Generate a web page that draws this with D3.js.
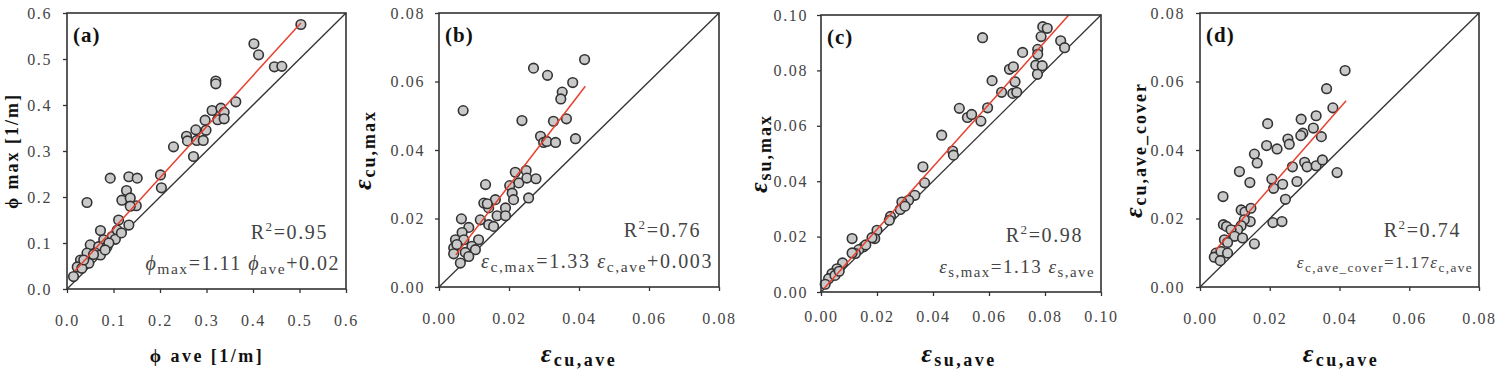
<!DOCTYPE html>
<html>
<head>
<meta charset="utf-8">
<script src="https://cdn.jsdelivr.net/npm/d3@7"></script>
<style>
  body { margin: 0; background: #fff; }
  svg { display: block; }
  svg text { font-family: "Liberation Serif", "Times New Roman", "DejaVu Serif", serif; }
</style>
</head>
<body>
<div id="chart"></div>
<script>
// ---------- data ----------
// (a) curvature
var aX = [0.503,0.402,0.412,0.446,0.462,0.320,0.320,0.363,0.312,0.331,0.338,0.324,0.338,0.297,0.299,0.277,0.257,0.259,0.279,0.293,0.272,0.229,0.093,0.133,0.151,0.201,0.203,0.043,0.128,0.118,0.136,0.149,0.136,0.111,0.133,0.072,0.097,0.108,0.079,0.050,0.068,0.086,0.043,0.061,0.072,0.029,0.047,0.022,0.014,0.032,0.036,0.057,0.104,0.117,0.090,0.082];
var aY = [0.575,0.533,0.509,0.483,0.484,0.452,0.446,0.407,0.388,0.393,0.384,0.368,0.370,0.367,0.345,0.346,0.332,0.322,0.323,0.323,0.288,0.309,0.241,0.244,0.241,0.248,0.220,0.188,0.214,0.193,0.198,0.181,0.180,0.150,0.139,0.127,0.114,0.128,0.107,0.096,0.092,0.092,0.078,0.078,0.074,0.063,0.056,0.048,0.027,0.045,0.063,0.075,0.108,0.122,0.100,0.085];
// (b) concrete strain
var bX = [0.0416,0.0270,0.0310,0.0382,0.0352,0.0348,0.0069,0.0237,0.0364,0.0327,0.0390,0.0290,0.0299,0.0308,0.0333,0.0133,0.0218,0.0249,0.0228,0.0251,0.0277,0.0202,0.0209,0.0213,0.0256,0.0128,0.0161,0.0142,0.0190,0.0166,0.0190,0.0118,0.0142,0.0156,0.0064,0.0085,0.0066,0.0047,0.0071,0.0113,0.0042,0.0094,0.0051,0.0075,0.0104,0.0042,0.0085,0.0061,0.0138];
var bY = [0.0664,0.0639,0.0618,0.0597,0.0569,0.0549,0.0515,0.0486,0.0491,0.0484,0.0433,0.0440,0.0422,0.0425,0.0422,0.0299,0.0335,0.0340,0.0304,0.0318,0.0316,0.0296,0.0274,0.0255,0.0260,0.0245,0.0255,0.0231,0.0231,0.0208,0.0208,0.0196,0.0182,0.0177,0.0199,0.0174,0.0159,0.0138,0.0138,0.0138,0.0114,0.0119,0.0124,0.0101,0.0109,0.0097,0.0089,0.0070,0.0243];
// (c) steel strain
var cX = [0.0792,0.0808,0.0577,0.0786,0.0856,0.0870,0.0720,0.0774,0.0774,0.0767,0.0790,0.0773,0.0673,0.0687,0.0611,0.0693,0.0645,0.0685,0.0699,0.0494,0.0595,0.0523,0.0538,0.0571,0.0431,0.0470,0.0473,0.0364,0.0370,0.0335,0.0313,0.0289,0.0283,0.0300,0.0248,0.0244,0.0200,0.0192,0.0182,0.0111,0.0152,0.0135,0.0123,0.0111,0.0160,0.0077,0.0057,0.0039,0.0027,0.0015,0.0050,0.0065];
var cY = [0.0958,0.0952,0.0918,0.0922,0.0907,0.0882,0.0865,0.0876,0.0858,0.0819,0.0817,0.0786,0.0804,0.0813,0.0763,0.0759,0.0721,0.0717,0.0721,0.0663,0.0665,0.0630,0.0641,0.0617,0.0566,0.0509,0.0494,0.0452,0.0394,0.0349,0.0331,0.0325,0.0298,0.0310,0.0273,0.0259,0.0223,0.0193,0.0196,0.0193,0.0163,0.0153,0.0139,0.0141,0.0170,0.0105,0.0084,0.0066,0.0048,0.0028,0.0060,0.0075];
// (d) concrete strain, cover average
var dX = [0.0416,0.0363,0.0381,0.0333,0.0290,0.0194,0.0325,0.0252,0.0256,0.0295,0.0289,0.0348,0.0191,0.0221,0.0156,0.0164,0.0113,0.0265,0.0300,0.0307,0.0333,0.0351,0.0393,0.0143,0.0206,0.0211,0.0237,0.0278,0.0245,0.0066,0.0118,0.0129,0.0146,0.0144,0.0127,0.0209,0.0235,0.0067,0.0076,0.0118,0.0108,0.0089,0.0099,0.0122,0.0070,0.0079,0.0156,0.0046,0.0041,0.0060,0.0079,0.0058];
var dY = [0.0632,0.0579,0.0523,0.0500,0.0490,0.0477,0.0464,0.0432,0.0417,0.0449,0.0442,0.0439,0.0413,0.0403,0.0388,0.0362,0.0337,0.0351,0.0364,0.0351,0.0354,0.0371,0.0334,0.0305,0.0315,0.0288,0.0300,0.0308,0.0256,0.0264,0.0225,0.0219,0.0230,0.0191,0.0196,0.0188,0.0191,0.0182,0.0177,0.0179,0.0167,0.0167,0.0148,0.0143,0.0138,0.0130,0.0126,0.0099,0.0087,0.0104,0.0099,0.0077];

// tick values
var ticksA = [0, 0.1, 0.2, 0.3, 0.4, 0.5, 0.6];
var ticksB = [0, 0.02, 0.04, 0.06, 0.08];
var ticksC = [0, 0.02, 0.04, 0.06, 0.08, 0.10];

// fitted lines: slope, intercept, x range
var fitSlope = [1.11, 1.33, 1.13, 1.165];
var fitIntercept = [0.02, 0.003, 0, 0.0056];
var fitFrom = [0.017, 0.0048, 0.001, 0.0044];
var fitTo = [0.503, 0.0418, 0.1, 0.0419];

var rSquared = ["0.95", "0.76", "0.98", "0.74"];

// ---------- layout ----------
var panels = [
  { xs: aX, ys: aY, max: 0.6, ticks: ticksA, dec: 1, box: [67, 346, 13, 289], tag: "(a)",
    ypad: 11, xpad: 22, yTitleX: 18, xTitleY: 362, xTitleX: 207, eqSize: 20, eqSpace: 1.5,
    xTitle: [["ϕ", "b"], [" ave [1/m]", "n"]],
    yTitle: [["ϕ", "b"], [" max [1/m]", "n"]],
    eq: [["ϕ", "i"], ["max", "sub"], ["=1.11 ", "n"], ["ϕ", "i"], ["ave", "sub"], ["+0.02", "n"]] },
  { xs: bX, ys: bY, max: 0.08, ticks: ticksB, dec: 2, box: [439, 719, 13, 287], tag: "(b)",
    ypad: 10, xpad: 22, yTitleX: 371, xTitleY: 362, xTitleX: 579, eqSize: 20, eqSpace: 1.6,
    xTitle: [["ε", "eps"], ["cu,ave", "tsub"]],
    yTitle: [["ε", "eps"], ["cu,max", "tsub"]],
    eq: [["ε", "i"], ["c,max", "sub"], ["=1.33 ", "n"], ["ε", "i"], ["c,ave", "sub"], ["+0.003", "n"]] },
  { xs: cX, ys: cY, max: 0.10, ticks: ticksC, dec: 2, box: [821, 1101, 15, 292], tag: "(c)",
    ypad: 9, xpad: 15, yTitleX: 767, xTitleY: 362, xTitleX: 959, eqSize: 19, eqSpace: 1.5,
    xTitle: [["ε", "eps"], ["su,ave", "tsub"]],
    yTitle: [["ε", "eps"], ["su,max", "tsub"]],
    eq: [["ε", "i"], ["s,max", "sub"], ["=1.13 ", "n"], ["ε", "i"], ["s,ave", "sub"]] },
  { xs: dX, ys: dY, max: 0.08, ticks: ticksB, dec: 2, box: [1200, 1479, 13, 287], tag: "(d)",
    ypad: 11, xpad: 22, yTitleX: 1142, xTitleY: 362, xTitleX: 1341, eqSize: 17, eqSpace: 1.4,
    xTitle: [["ε", "eps"], ["cu,ave", "tsub"]],
    yTitle: [["ε", "eps"], ["cu,ave_cover", "tsub"]],
    eq: [["ε", "i"], ["c,ave_cover", "sub"], ["=1.17", "n"], ["ε", "i"], ["c,ave", "sub"]] }
];

var serif = '"Liberation Serif", "Times New Roman", "DejaVu Serif", serif';

var svg = d3.select("#chart").append("svg")
  .attr("width", 1504)
  .attr("height", 372)
  .style("font-family", serif);

// put a string with greek letters / subscripts into a text element
function rich(text, parts, size) {
  var shift = 0;
  parts.forEach(function(p) {
    var s = p[0], kind = p[1];
    var ts = text.append("tspan").text(s);
    var want = 0;
    if (kind === "i") { ts.attr("font-style", "italic"); }
    if (kind === "sub") { ts.attr("font-size", size * 0.78); want = 4; }
    if (kind === "eps") { ts.attr("font-size", size * 1.45).attr("font-style", "italic").attr("font-weight", "bold"); }
    if (kind === "tsub") { ts.attr("font-weight", "bold"); want = 4; }
    if (kind === "b") { ts.attr("font-weight", "bold"); }
    if (want !== shift) { ts.attr("dy", want - shift); shift = want; }
  });
}

panels.forEach(function(p, i) {
  var x = d3.scaleLinear().domain([0, p.max]).range([p.box[0], p.box[1]]);
  var y = d3.scaleLinear().domain([0, p.max]).range([p.box[3], p.box[2]]);
  var g = svg.append("g");
  var fmt = d3.format("." + p.dec + "f");

  var clipId = "clip" + i;
  g.append("clipPath").attr("id", clipId).append("rect")
    .attr("x", p.box[0]).attr("y", p.box[2])
    .attr("width", p.box[1] - p.box[0]).attr("height", p.box[3] - p.box[2]);

  // axes
  var yAxis = g.append("g").attr("transform", "translate(" + p.box[0] + ",0)")
    .call(d3.axisLeft(y).tickValues(p.ticks).tickFormat(fmt).tickSize(4).tickPadding(p.ypad));
  var xAxis = g.append("g").attr("transform", "translate(0," + p.box[3] + ")")
    .call(d3.axisBottom(x).tickValues(p.ticks).tickFormat(fmt).tickSize(4).tickPadding(p.xpad));
  [yAxis, xAxis].forEach(function(ax) {
    ax.attr("font-family", serif).attr("font-size", 16);
    ax.select(".domain").remove();
    ax.selectAll("line").attr("stroke", "#333").attr("stroke-width", 1.3);
    ax.selectAll("text").attr("fill", "#444").attr("letter-spacing", "1.6px");
  });

  // 1:1 line
  g.append("line")
    .attr("x1", x(0)).attr("y1", y(0)).attr("x2", x(p.max)).attr("y2", y(p.max))
    .attr("stroke", "#333").attr("stroke-width", 1.3);

  // points
  var pts = p.xs.map(function(v, k) { return [v, p.ys[k]]; });
  g.append("g").selectAll("circle").data(pts).enter().append("circle")
    .attr("cx", function(d) { return x(d[0]); })
    .attr("cy", function(d) { return y(d[1]); })
    .attr("r", 4.8)
    .attr("fill", "#c9c9c9")
    .attr("stroke", "#333")
    .attr("stroke-width", 1.6);

  // fitted line
  g.append("line").attr("clip-path", "url(#" + clipId + ")")
    .attr("x1", x(fitFrom[i])).attr("y1", y(fitSlope[i] * fitFrom[i] + fitIntercept[i]))
    .attr("x2", x(fitTo[i])).attr("y2", y(fitSlope[i] * fitTo[i] + fitIntercept[i]))
    .attr("stroke", "#e8402e").attr("stroke-width", 1.5);

  // frame
  g.append("rect")
    .attr("x", p.box[0]).attr("y", p.box[2])
    .attr("width", p.box[1] - p.box[0]).attr("height", p.box[3] - p.box[2])
    .attr("fill", "none").attr("stroke", "#333").attr("stroke-width", 1.6);

  // panel tag
  g.append("text").attr("x", p.box[0] + 6).attr("y", p.box[2] + 29)
    .attr("font-size", 21).attr("font-weight", "bold").attr("letter-spacing", "1px")
    .attr("fill", "#111").text(p.tag);

  // R^2
  var r2 = g.append("text").attr("x", p.box[1] - 18).attr("y", p.box[3] - 50)
    .attr("text-anchor", "end").attr("font-size", 20).attr("fill", "#444")
    .attr("letter-spacing", "1.6px");
  r2.append("tspan").text("R");
  r2.append("tspan").attr("font-size", 13).attr("dy", -8).text("2");
  r2.append("tspan").attr("dy", 8).text("=" + rSquared[i]);

  // regression equation
  var eq = g.append("text").attr("x", p.box[1] - 6).attr("y", p.box[3] - 19)
    .attr("text-anchor", "end").attr("font-size", p.eqSize).attr("fill", "#444")
    .attr("letter-spacing", p.eqSpace + "px");
  rich(eq, p.eq, p.eqSize);

  // axis titles
  var xt = g.append("text").attr("x", p.xTitleX).attr("y", p.xTitleY)
    .attr("text-anchor", "middle").attr("font-size", 18).attr("font-weight", "bold")
    .attr("fill", "#111").attr("letter-spacing", "2.5px");
  rich(xt, p.xTitle, 18);
  var cy = (p.box[2] + p.box[3]) / 2;
  var yt = g.append("text")
    .attr("transform", "translate(" + p.yTitleX + "," + cy + ") rotate(-90)")
    .attr("text-anchor", "middle").attr("font-size", 18).attr("font-weight", "bold")
    .attr("fill", "#111").attr("letter-spacing", "2px");
  rich(yt, p.yTitle, 18);
});
</script>
</body>
</html>
